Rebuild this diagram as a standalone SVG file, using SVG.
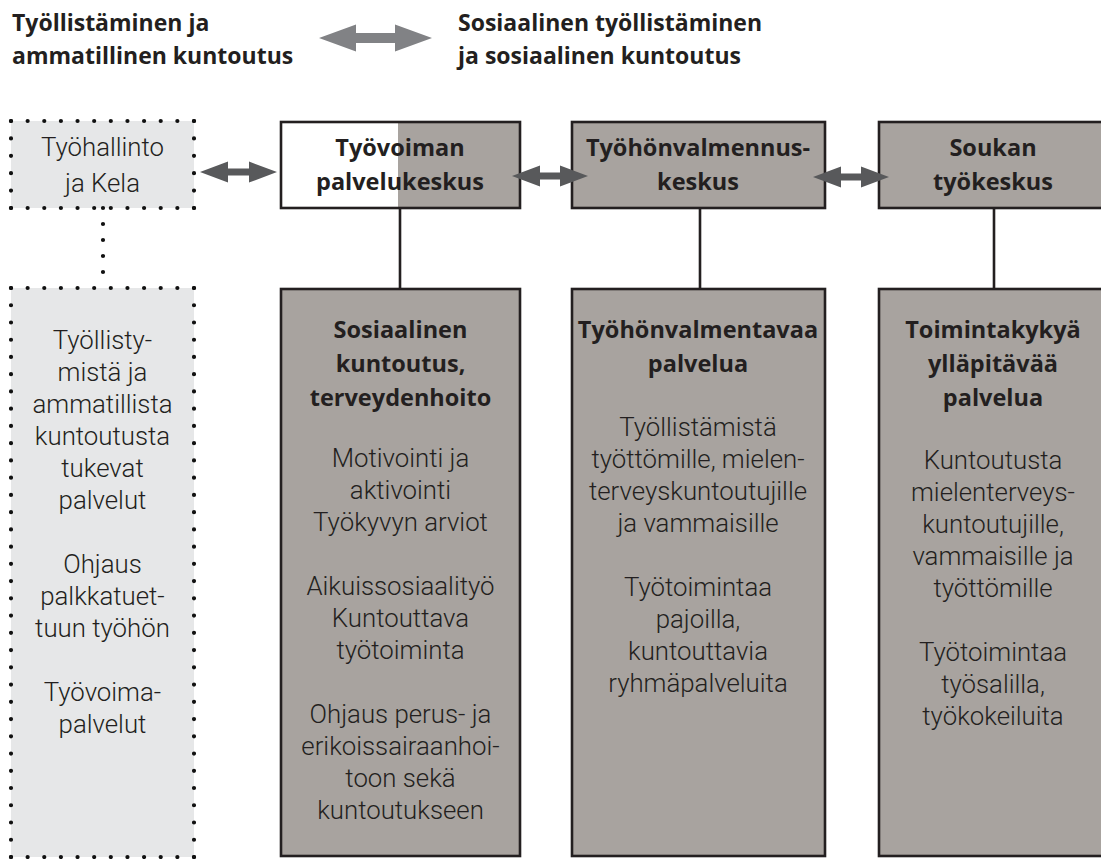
<svg xmlns="http://www.w3.org/2000/svg" width="1101" height="859" viewBox="0 0 1101 859">
<style>
text{font-family:"Open Sans","Noto Sans","Liberation Sans",sans-serif;fill:#231f20;text-anchor:middle}
.b{font-weight:700;font-size:23.5px}
.r{font-family:Roboto,"Liberation Sans",sans-serif;font-weight:300;font-size:25.8px}
.t{font-weight:700;font-size:23px;text-anchor:start}
.box{stroke:#231f20;stroke-width:2.6}
.gray{fill:#a8a39f}
.light{fill:#e6e7e8}
.dot{fill:none;stroke:#111;stroke-width:4.2;stroke-linecap:round}
.ln{stroke:#231f20;stroke-width:2.6;fill:none}
.sa{fill:#58595b}
</style>
<g id="titles">
<text class="t" x="12" y="31">Työllistäminen ja</text>
<text class="t" x="12" y="64">ammatillinen kuntoutus</text>
<polygon fill="#818285" points="319,38 356,24.5 356,33 395,33 395,24.5 432,38 395,51.5 395,43 356,43 356,51.5"/>
<text class="t" x="458" y="31">Sosiaalinen työllistäminen</text>
<text class="t" x="458" y="64">ja sosiaalinen kuntoutus</text>
</g>
<g id="tyohallinto">
<rect class="light" x="11" y="121" width="183" height="87"/>
<path class="dot" stroke-dasharray="0 16.636" d="M11,121H194M11,208H194"/>
<path class="dot" stroke-dasharray="0 17.4" d="M11,121V208M194,121V208"/>
<text class="r" x="102.5" y="156">Työhallinto</text>
<text class="r" x="102.5" y="192">ja Kela</text>
</g>
<g id="tukevat">
<rect class="light" x="11" y="288" width="183" height="569"/>
<path class="dot" stroke-dasharray="0 16.636" d="M11,288H194M11,857H194"/>
<path class="dot" stroke-dasharray="0 17.242" d="M11,288V857M194,288V857"/>
<text class="r" x="102.5" y="349">Työllisty-</text>
<text class="r" x="102.5" y="381">mistä ja</text>
<text class="r" x="102.5" y="413">ammatillista</text>
<text class="r" x="102.5" y="445">kuntoutusta</text>
<text class="r" x="102.5" y="477">tukevat</text>
<text class="r" x="102.5" y="509">palvelut</text>
<text class="r" x="102.5" y="573">Ohjaus</text>
<text class="r" x="102.5" y="605">palkkatuet-</text>
<text class="r" x="102.5" y="637">tuun työhön</text>
<text class="r" x="102.5" y="701">Työvoima-</text>
<text class="r" x="102.5" y="733">palvelut</text>
</g>
<g id="connectors">
<path class="dot" stroke-dasharray="0 16" d="M103,208V288"/>
<path class="ln" d="M400,208V289M700,208V289M994,208V289"/>
</g>
<g id="tyovoiman">
<rect x="281" y="122" width="239" height="86" fill="#fff"/>
<rect class="gray" x="398" y="122" width="122" height="86"/>
<rect class="box" x="281" y="122" width="239" height="86" fill="none"/>
<text class="b" x="400" y="156">Työvoiman</text>
<text class="b" x="400" y="190">palvelukeskus</text>
</g>
<g id="tyohonvalmennus">
<rect class="box gray" x="572" y="122" width="253" height="86"/>
<text class="b" x="698" y="156">Työhönvalmennus-</text>
<text class="b" x="698" y="190">keskus</text>
</g>
<g id="soukan">
<rect class="box gray" x="879" y="122" width="232" height="86"/>
<text class="b" x="993" y="156">Soukan</text>
<text class="b" x="993" y="190">työkeskus</text>
</g>
<g id="sosiaalinen">
<rect class="box gray" x="281" y="289" width="239" height="567"/>
<text class="b" x="400.5" y="338">Sosiaalinen</text>
<text class="b" x="400.5" y="372">kuntoutus,</text>
<text class="b" x="400.5" y="406">terveydenhoito</text>
<text class="r" x="400.5" y="467">Motivointi ja</text>
<text class="r" x="400.5" y="499">aktivointi</text>
<text class="r" x="400.5" y="531">Työkyvyn arviot</text>
<text class="r" x="400.5" y="595">Aikuissosiaalityö</text>
<text class="r" x="400.5" y="627">Kuntouttava</text>
<text class="r" x="400.5" y="659">työtoiminta</text>
<text class="r" x="400.5" y="723">Ohjaus perus- ja</text>
<text class="r" x="400.5" y="755">erikoissairaanhoi-</text>
<text class="r" x="400.5" y="787">toon sekä</text>
<text class="r" x="400.5" y="819">kuntoutukseen</text>
</g>
<g id="tyohonvalmentavaa">
<rect class="box gray" x="572" y="289" width="253" height="567"/>
<text class="b" x="698" y="338">Työhönvalmentavaa</text>
<text class="b" x="698" y="372">palvelua</text>
<text class="r" x="698" y="436">Työllistämistä</text>
<text class="r" x="698" y="468">työttömille, mielen-</text>
<text class="r" x="698" y="500">terveyskuntoutujille</text>
<text class="r" x="698" y="532">ja vammaisille</text>
<text class="r" x="698" y="596">Työtoimintaa</text>
<text class="r" x="698" y="628">pajoilla,</text>
<text class="r" x="698" y="660">kuntouttavia</text>
<text class="r" x="698" y="692">ryhmäpalveluita</text>
</g>
<g id="toimintakykya">
<rect class="box gray" x="879" y="289" width="232" height="567"/>
<text class="b" x="993" y="338">Toimintakykyä</text>
<text class="b" x="993" y="372">ylläpitävää</text>
<text class="b" x="993" y="406">palvelua</text>
<text class="r" x="993" y="469">Kuntoutusta</text>
<text class="r" x="993" y="501">mielenterveys-</text>
<text class="r" x="993" y="533">kuntoutujille,</text>
<text class="r" x="993" y="565">vammaisille ja</text>
<text class="r" x="993" y="597">työttömille</text>
<text class="r" x="993" y="661">Työtoimintaa</text>
<text class="r" x="993" y="693">työsalilla,</text>
<text class="r" x="993" y="725">työkokeiluita</text>
</g>
<g id="arrows">
<polygon class="sa" points="200,172 228,161.5 228,168.5 249,168.5 249,161.5 277,172 249,182.5 249,175.5 228,175.5 228,182.5"/>
<polygon class="sa" points="512,176 540,165.5 540,172.5 560,172.5 560,165.5 588,176 560,186.5 560,179.5 540,179.5 540,186.5"/>
<polygon class="sa" points="813,177 841,166.5 841,173.5 861,173.5 861,166.5 889,177 861,187.5 861,180.5 841,180.5 841,187.5"/>
</g>
</svg>
